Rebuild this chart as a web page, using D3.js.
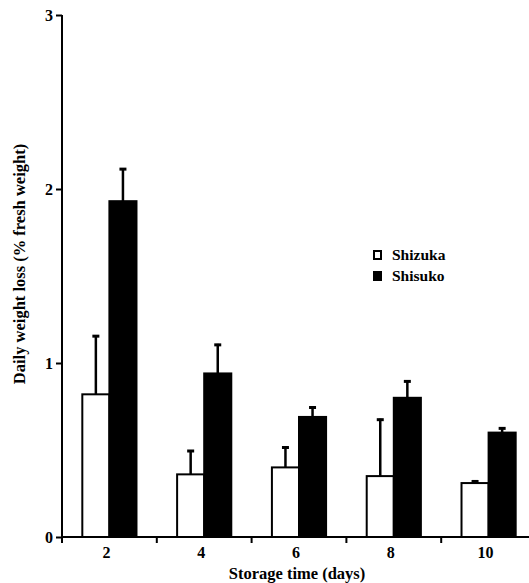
<!DOCTYPE html>
<html>
<head>
<meta charset="utf-8">
<script src="https://cdn.jsdelivr.net/npm/d3@7"></script>
<style>
  body { margin: 0; background: #fff; }
</style>
</head>
<body>
<div id="chart"></div>
<script>
// storage days
var days = ["2", "4", "6", "8", "10"];
// daily weight loss, mean and upper error bar
var shizuka = [0.82, 0.36, 0.40, 0.35, 0.31];
var shizukaErr = [0.34, 0.14, 0.12, 0.33, 0.015];
var shisuko = [1.93, 0.94, 0.69, 0.80, 0.60];
var shisukoErr = [0.19, 0.17, 0.06, 0.10, 0.03];
var yTicks = [0, 1, 2, 3];

var width = 529, height = 583;
var serif = "'Liberation Serif', 'DejaVu Serif', 'Times New Roman', Times, serif";

var svg = d3.select("#chart").append("svg")
  .attr("width", width)
  .attr("height", height);

var x = d3.scaleBand()
  .domain(days)
  .range([62, 536]);

var sub = d3.scaleBand()
  .domain(["Shizuka", "Shisuko"])
  .range([0, x.bandwidth()])
  .paddingOuter(0.75)
  .paddingInner(0);

var y = d3.scaleLinear()
  .domain([0, 3])
  .range([537, 15]);

var series = [
  { name: "Shizuka", values: shizuka, err: shizukaErr, fill: "#fff" },
  { name: "Shisuko", values: shisuko, err: shisukoErr, fill: "#000" }
];

function txt(sel, size) {
  sel.style("font-family", serif)
    .style("font-weight", "bold")
    .style("font-size", size + "px")
    .style("fill", "#000");
}

// error bars (upper only), drawn behind bars
series.forEach(function(s) {
  var g = svg.append("g");
  days.forEach(function(d, i) {
    var cx = x(d) + sub(s.name) + sub.bandwidth() / 2;
    var top = y(s.values[i] + s.err[i]);
    g.append("line")
      .attr("x1", cx).attr("x2", cx)
      .attr("y1", y(s.values[i])).attr("y2", top)
      .attr("stroke", "#000").attr("stroke-width", 2.5);
    g.append("line")
      .attr("x1", cx - 3.5).attr("x2", cx + 3.5)
      .attr("y1", top + 1).attr("y2", top + 1)
      .attr("stroke", "#000").attr("stroke-width", 3);
  });
});

// bars
series.forEach(function(s) {
  svg.append("g").selectAll("rect")
    .data(days)
    .enter()
    .append("rect")
    .attr("x", function(d) { return x(d) + sub(s.name); })
    .attr("y", function(d, i) { return y(s.values[i]); })
    .attr("width", sub.bandwidth())
    .attr("height", function(d, i) { return y(0) - y(s.values[i]); })
    .attr("fill", s.fill)
    .attr("stroke", "#000")
    .attr("stroke-width", 2);
});

// y axis
var yAxis = svg.append("g")
  .attr("transform", "translate(62,0)")
  .call(d3.axisLeft(y).tickValues(yTicks).tickFormat(d3.format("d")).tickSize(6).tickPadding(3));
yAxis.attr("font-family", null);
yAxis.select(".domain").attr("stroke-width", 2).attr("d", "M0," + y(3) + "V" + y(0));
yAxis.selectAll(".tick line").attr("stroke-width", 2);
yAxis.selectAll(".tick text").call(txt, 16);

// x axis
var xAxis = svg.append("g")
  .attr("transform", "translate(0,537)");
xAxis.append("line")
  .attr("x1", 61).attr("x2", width)
  .attr("stroke", "#000").attr("stroke-width", 2);
xAxis.selectAll(".btick")
  .data(days)
  .enter()
  .append("line")
  .attr("x1", function(d) { return x(d); })
  .attr("x2", function(d) { return x(d); })
  .attr("y1", 0).attr("y2", 6)
  .attr("stroke", "#000").attr("stroke-width", 2);
xAxis.selectAll(".lbl")
  .data(days)
  .enter()
  .append("text")
  .attr("x", function(d) { return x(d) + x.bandwidth() / 2 - 3; })
  .attr("y", 21)
  .attr("text-anchor", "middle")
  .call(txt, 16)
  .text(function(d) { return d; });

// axis titles
svg.append("text")
  .attr("x", 297).attr("y", 579)
  .attr("text-anchor", "middle")
  .call(txt, 16.5)
  .text("Storage time (days)");

svg.append("text")
  .attr("transform", "translate(25,264) rotate(-90)")
  .attr("text-anchor", "middle")
  .call(txt, 16.5)
  .text("Daily weight loss (% fresh weight)");

// legend
var legend = svg.append("g").attr("transform", "translate(373,250)");
series.forEach(function(s, i) {
  var row = legend.append("g").attr("transform", "translate(0," + (i * 21) + ")");
  row.append("rect")
    .attr("x", 1).attr("y", 1)
    .attr("width", 7).attr("height", 8)
    .attr("fill", s.fill)
    .attr("stroke", "#000").attr("stroke-width", 2);
  row.append("text")
    .attr("x", 19).attr("y", 10)
    .call(txt, 15.5)
    .text(s.name);
});
</script>
</body>
</html>
